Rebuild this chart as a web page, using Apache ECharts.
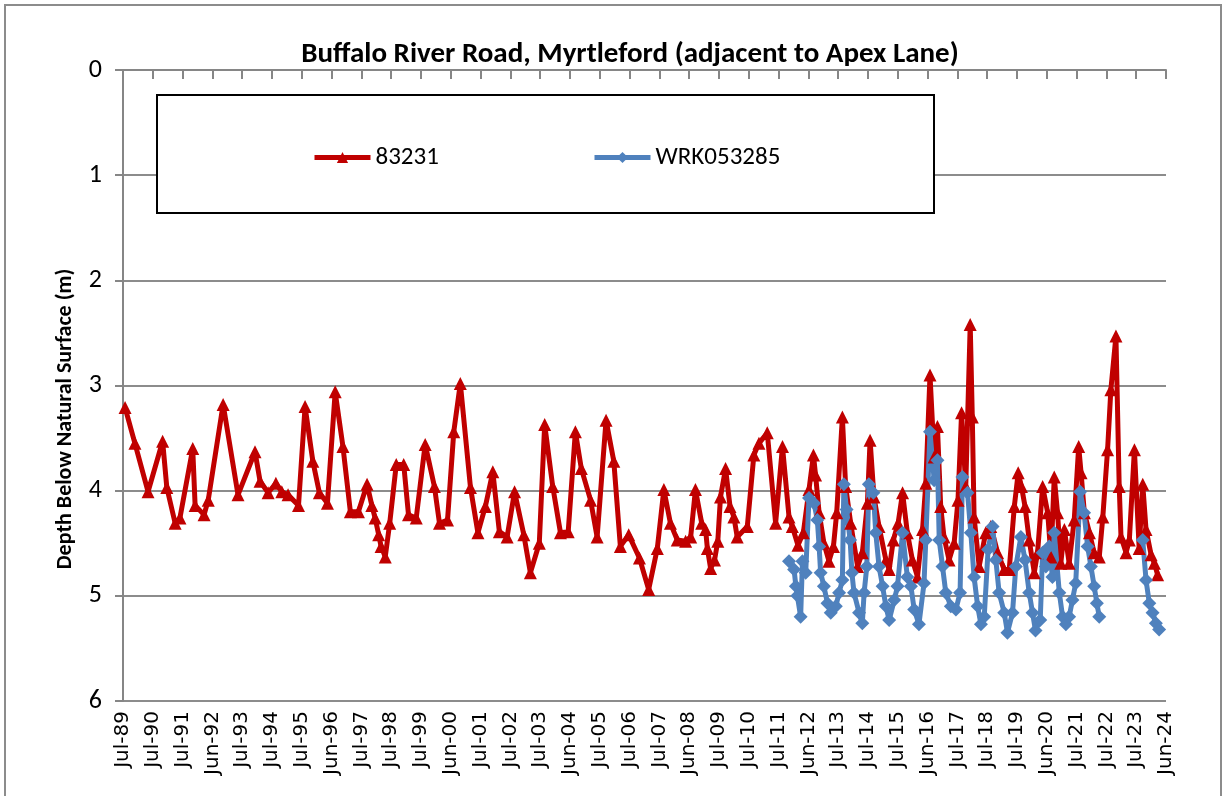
<!DOCTYPE html>
<html lang="en">
<head>
<meta charset="UTF-8">
<title>Buffalo River Road, Myrtleford</title>
<script src="https://cdn.jsdelivr.net/npm/echarts@6/dist/echarts.min.js"></script>
<style>
html,body{margin:0;padding:0;background:#fff}
#chartBox{width:1226px;height:796px}
</style>
</head>
<body>
<div id="chartBox"></div>
<script>
// x values: years since Jul-89
const tickLabels = ['Jul-89','Jul-90','Jul-91','Jun-92','Jul-93','Jul-94','Jul-95','Jun-96','Jul-97','Jul-98',
    'Jul-99','Jun-00','Jul-01','Jul-02','Jul-03','Jun-04','Jul-05','Jul-06','Jul-07','Jun-08',
    'Jul-09','Jul-10','Jul-11','Jun-12','Jul-13','Jul-14','Jul-15','Jun-16','Jul-17','Jul-18',
    'Jul-19','Jun-20','Jul-21','Jul-22','Jul-23','Jun-24'];

const t83231 = [0.07,0.40,0.84,1.33,1.47,1.75,1.91,2.34,2.42,2.72,2.86,3.36,3.86,4.43,4.60,4.87,5.13,5.33,5.54,5.89,
    6.11,6.37,6.59,6.86,7.12,7.38,7.63,7.90,8.19,8.35,8.46,8.58,8.66,8.80,8.95,9.17,9.42,9.58,9.84,10.14,
    10.45,10.62,10.89,11.10,11.32,11.66,11.91,12.16,12.41,12.63,12.89,13.14,13.45,13.67,13.97,14.15,14.42,14.68,14.94,15.18,
    15.38,15.69,15.91,16.21,16.47,16.69,16.97,17.33,17.64,17.93,18.15,18.37,18.60,18.88,19.05,19.21,19.42,19.55,19.61,19.72,
    19.85,19.96,20.05,20.22,20.37,20.50,20.61,20.95,21.17,21.34,21.62,21.90,22.13,22.35,22.46,22.65,22.83,23.02,23.17,23.24,
    23.36,23.52,23.69,23.84,23.95,24.14,24.25,24.42,24.65,24.81,24.98,25.07,25.20,25.37,25.60,25.71,25.85,26.01,26.16,26.32,
    26.49,26.66,26.83,26.94,27.08,27.22,27.33,27.44,27.55,27.72,27.89,28.02,28.14,28.28,28.43,28.50,28.56,28.73,28.95,29.12,
    29.35,29.57,29.74,29.91,30.04,30.15,30.27,30.41,30.58,30.69,30.86,31.03,31.14,31.25,31.36,31.47,31.59,31.75,31.92,32.07,
    32.15,32.26,32.43,32.59,32.76,32.88,33.04,33.15,33.32,33.43,33.49,33.66,33.77,33.94,34.10,34.22,34.33,34.50,34.61,34.72];
const d83231 = [3.21,3.55,4.01,3.53,3.97,4.31,4.26,3.60,4.14,4.23,4.09,3.18,4.04,3.63,3.91,4.02,3.93,4.01,4.04,4.14,
    3.20,3.72,4.02,4.12,3.06,3.58,4.20,4.20,3.94,4.14,4.26,4.42,4.53,4.63,4.31,3.75,3.75,4.23,4.26,3.56,
    3.96,4.31,4.28,3.44,2.98,3.97,4.40,4.15,3.82,4.39,4.44,4.01,4.42,4.78,4.50,3.37,3.96,4.40,4.39,3.44,
    3.79,4.09,4.44,3.33,3.72,4.53,4.42,4.64,4.94,4.55,3.99,4.31,4.47,4.48,4.44,3.99,4.31,4.37,4.55,4.74,
    4.66,4.48,4.06,3.79,4.15,4.25,4.44,4.34,3.66,3.55,3.45,4.31,3.58,4.25,4.34,4.52,4.40,3.99,3.66,3.85,
    4.21,4.50,4.67,4.53,4.21,3.30,3.96,4.31,4.72,4.59,4.12,3.52,4.06,4.34,4.66,4.75,4.47,4.31,4.02,4.40,
    4.66,4.82,4.37,3.93,2.90,3.68,3.39,4.15,4.44,4.66,4.50,4.09,3.26,3.96,2.42,3.30,4.25,4.72,4.40,4.34,
    4.59,4.75,4.75,4.15,3.83,3.96,4.15,4.47,4.78,4.59,3.96,4.21,4.63,3.87,4.21,4.69,4.37,4.69,4.28,3.58,
    3.83,4.21,4.40,4.59,4.63,4.25,3.61,3.04,2.53,3.96,4.44,4.59,4.47,3.61,4.55,3.94,4.37,4.61,4.69,4.80];

const tWRK = [22.35,22.52,22.58,22.63,22.74,22.80,22.91,23.02,23.19,23.30,23.36,23.41,23.52,23.64,23.75,23.92,24.03,24.14,24.19,24.28,
    24.40,24.46,24.53,24.70,24.81,24.87,24.96,25.03,25.18,25.26,25.37,25.49,25.60,25.71,25.88,25.99,26.16,26.32,26.44,26.55,
    26.71,26.88,26.94,27.08,27.22,27.33,27.39,27.50,27.61,27.78,27.95,28.09,28.17,28.34,28.45,28.56,28.68,28.79,28.90,29.03,
    29.18,29.29,29.40,29.57,29.68,29.85,29.96,30.13,30.27,30.41,30.52,30.62,30.78,30.86,30.97,31.08,31.19,31.25,31.42,31.53,
    31.64,31.75,31.86,31.97,32.12,32.25,32.37,32.48,32.59,32.68,32.76,33.50,34.22,34.33,34.44,34.55,34.66,34.77];
const dWRK = [4.67,4.75,4.91,5.00,5.20,4.67,4.78,4.07,4.12,4.28,4.53,4.78,4.91,5.07,5.16,5.10,4.97,4.85,3.94,4.18,
    4.47,4.78,4.97,5.16,5.26,4.97,4.72,3.94,4.02,4.40,4.72,4.91,5.10,5.23,5.04,4.91,4.40,4.82,4.91,5.13,
    5.27,4.88,4.47,3.44,3.90,3.71,4.47,4.72,4.97,5.10,5.13,4.97,3.87,4.02,4.40,4.82,5.10,5.27,5.20,4.56,
    4.34,4.66,4.97,5.16,5.35,5.16,4.72,4.44,4.66,4.97,5.16,5.33,5.23,4.59,4.72,4.53,4.82,4.40,4.97,5.20,
    5.27,5.20,5.04,4.88,4.01,4.21,4.53,4.72,4.91,5.07,5.20,null,4.47,4.85,5.07,5.16,5.26,5.32];

const fontTxt = "'Carlito','Liberation Sans Narrow','DejaVu Sans Condensed',sans-serif";

function pairs(ts, ds){
    return ts.map((t, i) => [t, ds[i]]);
}

let chartObj = echarts.init(document.getElementById('chartBox'));
chartObj.setOption({
    animation: false,
    backgroundColor: '#fff',
    title: {
        text: 'Buffalo River Road, Myrtleford (adjacent to Apex Lane)',
        left: 625, textAlign: 'center', top: 35,
        textStyle: {fontFamily: fontTxt, fontSize: 29, fontWeight: 'bold', color: '#000'}
    },
    graphic: [
        {type: 'rect', shape: {x: 5, y: 5, width: 1216, height: 820},
            style: {fill: 'none', stroke: '#8c8c8c', lineWidth: 2}, silent: true},
        {type: 'rect', shape: {x: 157, y: 95, width: 777, height: 118}, z: 10,
            style: {fill: '#fff', stroke: '#000', lineWidth: 2}, silent: true},
        // y axis title, sits a little below the plot middle as in the source
        {type: 'text', x: 65, y: 419, rotation: Math.PI / 2, silent: true,
            style: {text: 'Depth Below Natural Surface (m)', align: 'center', verticalAlign: 'middle',
                font: "bold 22px 'Carlito','Liberation Sans Narrow','DejaVu Sans Condensed',sans-serif", fill: '#000'}}
    ],
    legend: [
        {data: ['83231'], left: 307, top: 140, z: 20, itemWidth: 56, itemHeight: 14, itemGap: 4,
            lineStyle: {width: 5},
            textStyle: {fontFamily: fontTxt, fontSize: 25, color: '#000'}},
        {data: ['WRK053285'], left: 587, top: 140, z: 20, itemWidth: 56, itemHeight: 14, itemGap: 4,
            lineStyle: {width: 5},
            textStyle: {fontFamily: fontTxt, fontSize: 25, color: '#000'}}
    ],
    grid: {left: 123, right: 60, top: 70, bottom: 95},
    xAxis: {
        type: 'value', min: 0, max: 35, interval: 1,
        axisLine: {lineStyle: {color: '#868686', width: 2}},
        axisTick: {length: 9, lineStyle: {color: '#868686', width: 2}},
        splitLine: {show: false},
        axisLabel: {
            rotate: 90, margin: 10, color: '#000', fontSize: 20, fontFamily: 'DejaVu Sans',
            formatter: v => tickLabels[Math.round(v)]
        }
    },
    yAxis: {
        type: 'value', inverse: true, min: 0, max: 6, interval: 1,
        axisLine: {show: true, lineStyle: {color: '#868686', width: 2}},
        axisTick: {show: true, length: 8, lineStyle: {color: '#868686', width: 2}},
        splitLine: {lineStyle: {color: '#8c8c8c', width: 2}},
        axisLabel: {color: '#000', fontSize: 26, fontFamily: fontTxt, margin: 21}
    },
    series: [
        {
            name: '83231', type: 'line', data: pairs(t83231, d83231),
            symbol: 'triangle', symbolSize: 13,
            lineStyle: {color: '#c00000', width: 5},
            itemStyle: {color: '#c00000'}
        },
        {
            name: 'WRK053285', type: 'line', data: pairs(tWRK, dWRK),
            symbol: 'diamond', symbolSize: 14, connectNulls: false,
            lineStyle: {color: '#4f81bd', width: 5},
            itemStyle: {color: '#4f81bd'}
        }
    ]
});
</script>
</body>
</html>
